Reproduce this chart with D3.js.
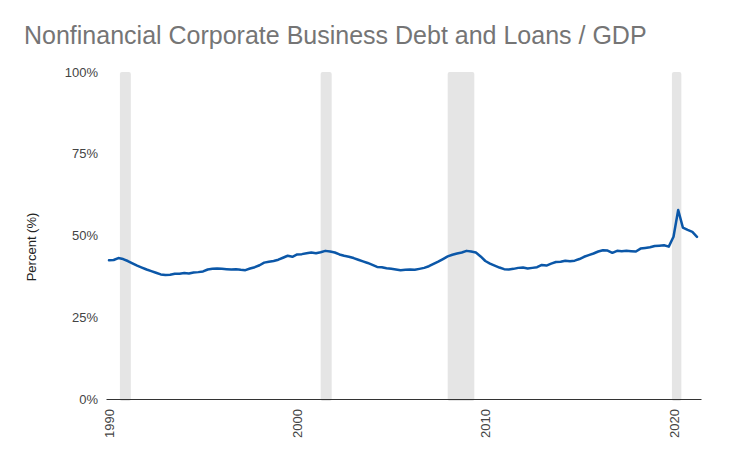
<!DOCTYPE html>
<html>
<head>
<meta charset="utf-8">
<script src="https://cdn.jsdelivr.net/npm/d3@7"></script>
<style>
  html, body { margin: 0; padding: 0; background: #fff; }
  svg { display: block; font-family: "Liberation Sans", Arial, sans-serif; }
</style>
</head>
<body>
<svg id="chart" width="750" height="463"></svg>
<script>
// ---- Data ----
const title = "Nonfinancial Corporate Business Debt and Loans / GDP";
const yLabel = "Percent (%)";
const startYear = 1990; // first quarter 1990 Q1
const values = [
  42.4, 42.5, 43.1, 42.8,   // 1990
  42.2, 41.5, 40.8, 40.2,   // 1991
  39.6, 39.1, 38.6, 38.1,   // 1992
  37.9, 38.0, 38.3, 38.3,   // 1993
  38.5, 38.4, 38.7, 38.8,   // 1994
  39.0, 39.6, 39.8, 39.9,   // 1995
  39.8, 39.7, 39.6, 39.7,   // 1996
  39.5, 39.4, 39.9, 40.3,   // 1997
  40.9, 41.7, 42.0, 42.2,   // 1998
  42.6, 43.2, 43.8, 43.5,   // 1999
  44.2, 44.3, 44.6, 44.8,   // 2000
  44.6, 44.9, 45.3, 45.1,   // 2001
  44.8, 44.2, 43.8, 43.5,   // 2002
  43.1, 42.6, 42.1, 41.6,   // 2003
  41.0, 40.4, 40.3, 40.0,   // 2004
  39.8, 39.6, 39.4, 39.5,   // 2005
  39.6, 39.5, 39.8, 40.1,   // 2006
  40.6, 41.3, 42.0, 42.8,   // 2007
  43.6, 44.1, 44.5, 44.8,   // 2008
  45.3, 45.1, 44.8, 43.6,   // 2009
  42.2, 41.4, 40.8, 40.2,   // 2010
  39.7, 39.6, 39.8, 40.1,   // 2011
  40.2, 39.9, 40.1, 40.3,   // 2012
  41.0, 40.8, 41.4, 41.9,   // 2013
  42.0, 42.3, 42.1, 42.3,   // 2014
  42.8, 43.5, 44.0, 44.5,   // 2015
  45.1, 45.5, 45.4, 44.7,   // 2016
  45.3, 45.2, 45.3, 45.2,   // 2017
  45.1, 46.0, 46.2, 46.4,   // 2018
  46.8, 46.9, 47.0, 46.6,   // 2019
  49.6, 57.8, 52.4, 51.7,   // 2020
  51.1, 49.6                // 2021
];
const recessions = [
  ["1990-08-01", "1991-03-01"],
  ["2001-04-01", "2001-11-01"],
  ["2008-01-01", "2009-06-01"],
  ["2019-12-01", "2020-06-01"]
];
const xTicks = [1990, 2000, 2010, 2020];
const yTicks = [0, 25, 50, 75, 100];

// ---- Build series ----
const series = values.map((v, i) => ({
  date: new Date(startYear + Math.floor(i / 4), (i % 4) * 3, 1),
  value: v
}));

const svg = d3.select("#chart");

// scales
const x = d3.scaleTime()
  .domain([series[0].date, series[series.length - 1].date])
  .range([109, 697]);
x.domain([x.invert(106), x.invert(701)]).range([106, 701]);

const y = d3.scaleLinear().domain([0, 100]).range([399, 72]);

// title
svg.append("text")
  .attr("x", 24).attr("y", 44)
  .attr("fill", "#757575")
  .attr("font-size", 25)
  .text(title);

// recession bands
const parse = d3.timeParse("%Y-%m-%d");
svg.append("g").selectAll("rect")
  .data(recessions)
  .join("rect")
  .attr("x", d => x(parse(d[0])))
  .attr("width", d => x(parse(d[1])) - x(parse(d[0])))
  .attr("y", y(100))
  .attr("height", y(0) - y(100) + 2)
  .attr("rx", 2)
  .attr("fill", "#e5e5e5");

// y axis labels
const yAxis = d3.axisLeft(y).tickValues(yTicks).tickSize(0).tickPadding(0)
  .tickFormat(d => d + "%");
svg.append("g")
  .attr("transform", "translate(98,0)")
  .call(yAxis)
  .call(g => g.select(".domain").remove())
  .call(g => g.selectAll("text")
    .attr("font-family", "'Liberation Sans', Arial, sans-serif")
    .attr("font-size", 13).attr("fill", "#444"));

// y title
svg.append("text")
  .attr("transform", "translate(36,247) rotate(-90)")
  .attr("text-anchor", "middle")
  .attr("font-size", 13)
  .attr("fill", "#222")
  .text(yLabel);

// x axis
const xAxis = d3.axisBottom(x)
  .tickValues(xTicks.map(yr => new Date(yr, 0, 1)))
  .tickSize(0)
  .tickFormat(d3.timeFormat("%Y"));
svg.append("g")
  .attr("transform", `translate(0,${y(0)})`)
  .call(xAxis)
  .call(g => g.select(".domain").attr("stroke", "#333").attr("stroke-width", 1))
  .call(g => g.selectAll("text")
    .attr("font-family", "'Liberation Sans', Arial, sans-serif")
    .attr("font-size", 13).attr("fill", "#444")
    .attr("text-anchor", "end")
    .attr("transform", "rotate(-90)")
    .attr("x", -10).attr("y", 0).attr("dy", "0.35em"));

// line
const line = d3.line()
  .x(d => x(d.date))
  .y(d => y(d.value));
svg.append("path")
  .datum(series)
  .attr("fill", "none")
  .attr("stroke", "#0b57a8")
  .attr("stroke-width", 2.5)
  .attr("stroke-linejoin", "round")
  .attr("stroke-linecap", "round")
  .attr("d", line);
</script>
</body>
</html>
